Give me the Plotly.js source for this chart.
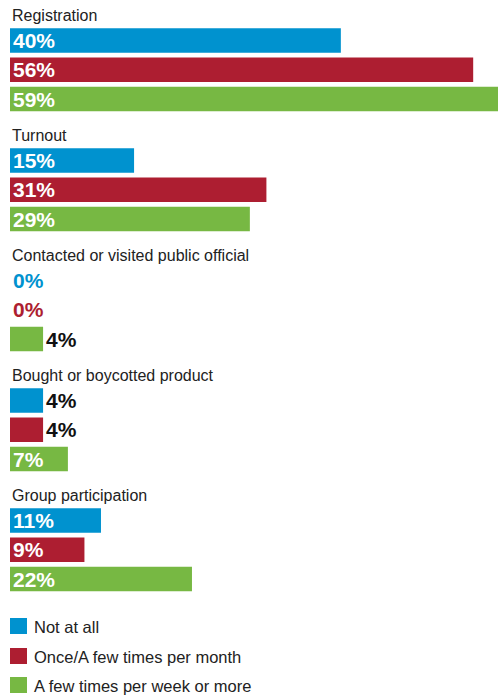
<!DOCTYPE html>
<html>
<head>
<meta charset="utf-8">
<script src="https://cdn.plot.ly/plotly-3.0.1.min.js"></script>
<style>html,body{margin:0;padding:0;background:#fff}#chart{width:498px;height:698px}</style>
</head>
<body>
<div id="chart"></div>
<script>
const categories = ["Registration", "Turnout", "Contacted or visited public official", "Bought or boycotted product", "Group participation"];
const seriesNames = ["Not at all", "Once/A few times per month", "A few times per week or more"];
const notAtAll = [40, 15, 0, 4, 11];
const fewPerMonth = [56, 31, 0, 4, 9];
const fewPerWeek = [59, 29, 4, 7, 22];
const colors = ["#0092cf", "#ad1e31", "#77b843"];

const series = [notAtAll, fewPerMonth, fewPerWeek];
const GROUP = 120, STEP = 29.3, FIRST = 40.5, BARH = 24.5;
const FONT = "Liberation Sans, Arial, sans-serif";

const traces = series.map((vals, j) => {
  const pos = categories.map((c, g) => FIRST + g * GROUP + j * STEP);
  const tp = vals.map(v => v >= 6 ? "inside" : "outside");
  const tc = vals.map(v => v >= 6 ? "#ffffff" : (v === 0 ? colors[j] : "#111111"));
  return {
    type: "bar", orientation: "h", name: seriesNames[j],
    x: vals, y: pos, width: BARH,
    marker: {color: colors[j]},
    text: vals.map(v => v + "%"),
    textposition: tp,
    insidetextanchor: "start",
    constraintext: "none",
    textfont: {family: FONT, size: 21, color: tc, weight: 700},
    cliponaxis: false,
    hoverinfo: "none"
  };
});

const annotations = categories.map((c, g) => ({
  text: c, xref: "paper", yref: "y", x: 0, y: FIRST + g * GROUP - 25.5,
  xanchor: "left", yanchor: "middle", showarrow: false,
  font: {family: FONT, size: 16, color: "#222"}
}));
const shapes = [];
const legY = [626, 656, 685];
seriesNames.forEach((n, j) => {
  shapes.push({type: "rect", xref: "paper", yref: "y", x0: 0, x1: 17/488,
    y0: legY[j] - 8, y1: legY[j] + 8, fillcolor: colors[j], line: {width: 0}});
  annotations.push({text: n, xref: "paper", yref: "y", x: 22/488, y: legY[j] + 1,
    xanchor: "left", yanchor: "middle", showarrow: false,
    font: {family: FONT, size: 16.5, color: "#222"}});
});

const layout = {
  width: 498, height: 698,
  margin: {l: 10, r: 0, t: 0, b: 0},
  paper_bgcolor: "#fff", plot_bgcolor: "#fff",
  showlegend: false,
  barmode: "overlay",
  xaxis: {range: [0, 59], visible: false, fixedrange: true},
  yaxis: {range: [698, 0], visible: false, fixedrange: true},
  annotations: annotations, shapes: shapes
};
Plotly.newPlot("chart", traces, layout, {displayModeBar: false, staticPlot: true});
</script>
</body>
</html>
